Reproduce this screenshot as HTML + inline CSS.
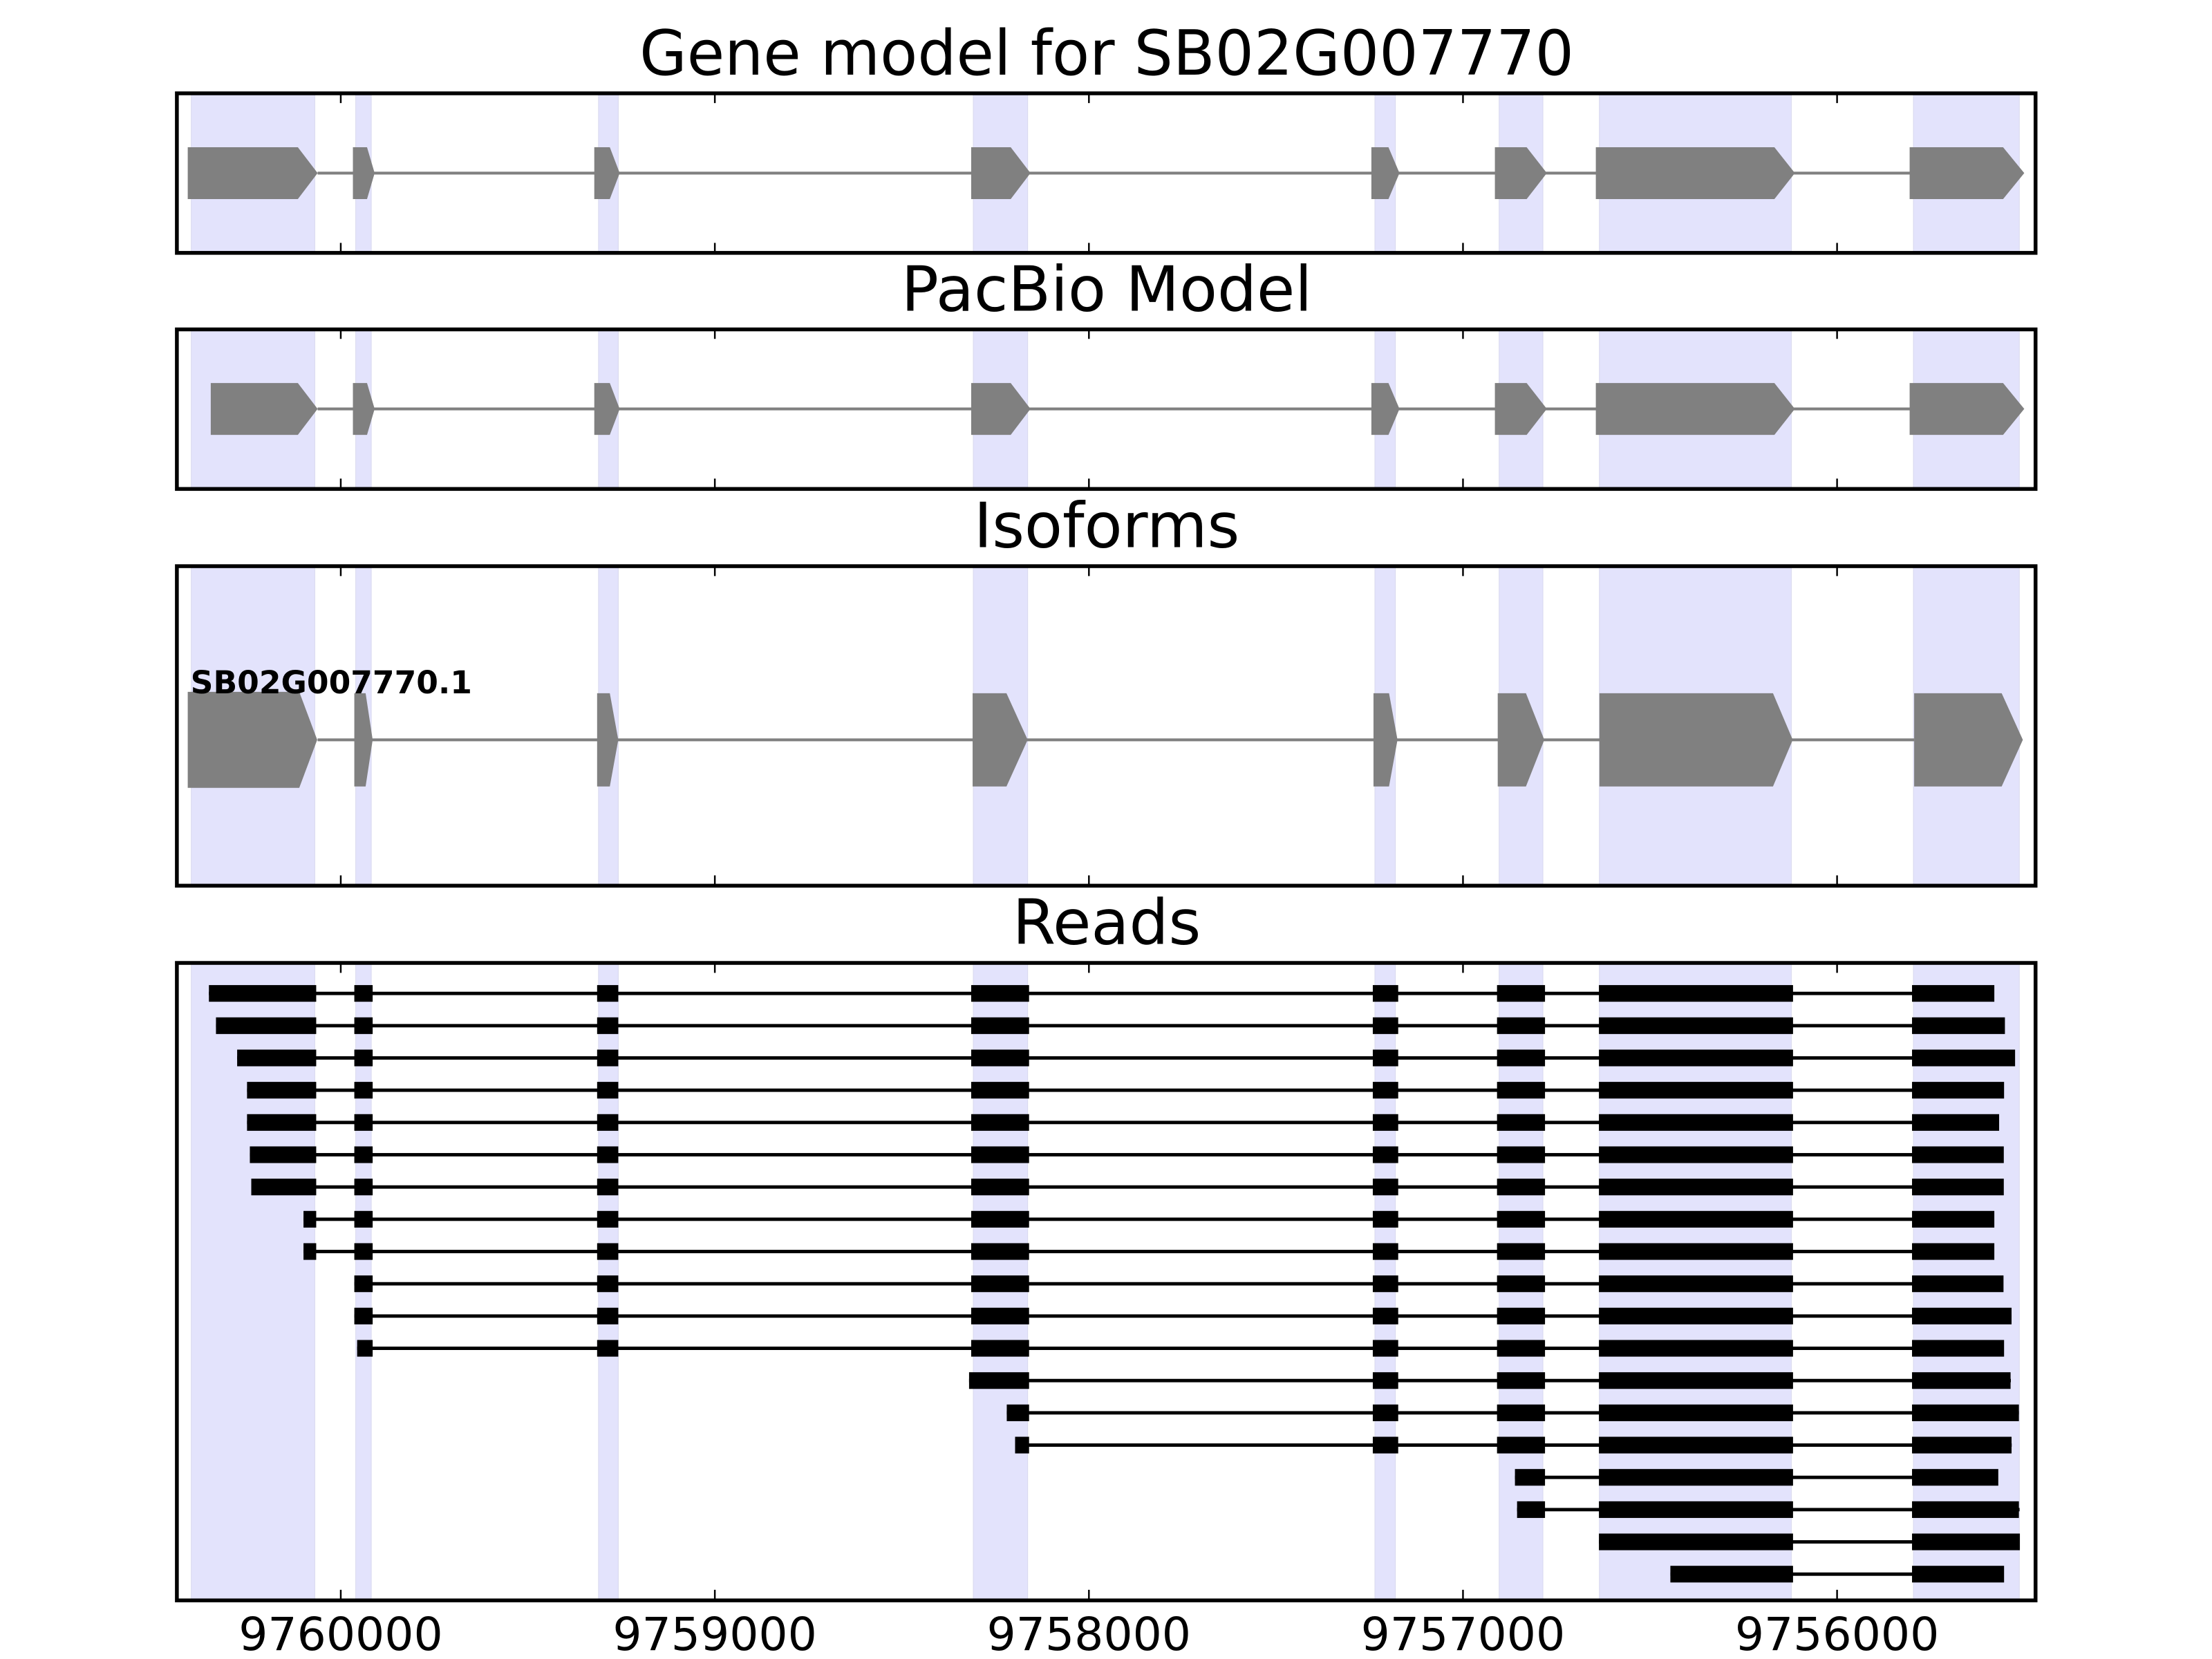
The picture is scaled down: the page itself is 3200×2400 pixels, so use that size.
<!DOCTYPE html>
<html><head><meta charset="utf-8"><style>
html,body{margin:0;padding:0;background:#fff;}
svg{display:block;}
text{font-family:"DejaVu Sans","Liberation Sans",sans-serif;}
</style></head><body>
<svg width="3200" height="2400" viewBox="0 0 1567 1175" preserveAspectRatio="none" xmlns="http://www.w3.org/2000/svg">
<defs>
<g id="sh" fill="#e3e3fc" stroke="#d8d8ee" stroke-width="1">
<rect x="135.5" y="0" width="87.5" height="1" vector-effect="non-scaling-stroke"/>
<rect x="252" y="0" width="11" height="1" vector-effect="non-scaling-stroke"/>
<rect x="424" y="0" width="14" height="1" vector-effect="non-scaling-stroke"/>
<rect x="689.5" y="0" width="38.5" height="1" vector-effect="non-scaling-stroke"/>
<rect x="974" y="0" width="14.5" height="1" vector-effect="non-scaling-stroke"/>
<rect x="1062" y="0" width="31" height="1" vector-effect="non-scaling-stroke"/>
<rect x="1133" y="0" width="136" height="1" vector-effect="non-scaling-stroke"/>
<rect x="1355.5" y="0" width="75" height="1" vector-effect="non-scaling-stroke"/>
</g>
</defs>
<rect width="1567" height="1175" fill="#fff"/>

<!-- Titles -->
<text x="784" y="53" font-size="44" text-anchor="middle" textLength="662" lengthAdjust="spacingAndGlyphs">Gene model for SB02G007770</text>
<text x="784" y="220" font-size="44" text-anchor="middle">PacBio Model</text>
<text x="784" y="387.5" font-size="44" text-anchor="middle">Isoforms</text>
<text x="784" y="668.5" font-size="44" text-anchor="middle">Reads</text>

<!-- shading -->
<use href="#sh" transform="translate(0,66.1) scale(1,113)"/>
<use href="#sh" transform="translate(0,233.3) scale(1,113)"/>
<use href="#sh" transform="translate(0,401) scale(1,226.3)"/>
<use href="#sh" transform="translate(0,682) scale(1,451.5)"/>

<!-- Panel 1 gene model -->
<g fill="#808080">
<line x1="225" y1="122.6" x2="1353" y2="122.6" stroke="#808080" stroke-width="2"/>
<polygon points="133,104.3 211,104.3 225,122.6 211,141 133,141"/>
<polygon points="250,104.3 260,104.3 265.4,122.6 260,141 250,141"/>
<polygon points="421,104.3 432,104.3 439,122.6 432,141 421,141"/>
<polygon points="688,104.3 716,104.3 730,122.6 716,141 688,141"/>
<polygon points="971.5,104.3 983.6,104.3 991.4,122.6 983.6,141 971.5,141"/>
<polygon points="1059,104.3 1081.5,104.3 1095.8,122.6 1081.5,141 1059,141"/>
<polygon points="1130.5,104.3 1257,104.3 1271.5,122.6 1257,141 1130.5,141"/>
<polygon points="1352.8,104.3 1419,104.3 1434,122.6 1419,141 1352.8,141"/>
</g>

<!-- Panel 2 -->
<g fill="#808080" transform="translate(0,167)">
<line x1="225" y1="122.6" x2="1353" y2="122.6" stroke="#808080" stroke-width="2"/>
<polygon points="149.3,104.3 211,104.3 225,122.6 211,141 149.3,141"/>
<polygon points="250,104.3 260,104.3 265.4,122.6 260,141 250,141"/>
<polygon points="421,104.3 432,104.3 439,122.6 432,141 421,141"/>
<polygon points="688,104.3 716,104.3 730,122.6 716,141 688,141"/>
<polygon points="971.5,104.3 983.6,104.3 991.4,122.6 983.6,141 971.5,141"/>
<polygon points="1059,104.3 1081.5,104.3 1095.8,122.6 1081.5,141 1059,141"/>
<polygon points="1130.5,104.3 1257,104.3 1271.5,122.6 1257,141 1130.5,141"/>
<polygon points="1352.8,104.3 1419,104.3 1434,122.6 1419,141 1352.8,141"/>
</g>

<!-- Panel 3 -->
<g fill="#808080">
<line x1="225" y1="524" x2="1356" y2="524" stroke="#808080" stroke-width="2"/>
<polygon points="133,490 212,490 224.7,524 212,558 133,558"/>
<polygon points="251,491 259,491 264,524 259,557 251,557"/>
<polygon points="423,491 432,491 438,524 432,557 423,557"/>
<polygon points="689,491 713,491 728,524 713,557 689,557"/>
<polygon points="973,491 984,491 990,524 984,557 973,557"/>
<polygon points="1061,491 1081,491 1094,524 1081,557 1061,557"/>
<polygon points="1133,491 1256,491 1270,524 1256,557 1133,557"/>
<polygon points="1356,491 1418,491 1433,524 1418,557 1356,557"/>
</g>
<text x="135" y="491" font-size="22.3" font-weight="bold">SB02G007770.1</text>

<!-- Reads -->
<g fill="#000" stroke="none">
<g transform="translate(0,703.6)">
<rect x="148" y="-1.2" width="1264" height="2.4"/>
<rect x="148" y="-5.9" width="76" height="11.8"/><rect x="251" y="-5.9" width="13" height="11.8"/><rect x="423" y="-5.9" width="15" height="11.8"/><rect x="688" y="-5.9" width="41" height="11.8"/><rect x="972.5" y="-5.9" width="18" height="11.8"/><rect x="1060.5" y="-5.9" width="34" height="11.8"/><rect x="1132.7" y="-5.9" width="137.5" height="11.8"/><rect x="1354.5" y="-5.9" width="58.3" height="11.8"/>
</g>
<g transform="translate(0,726.45)">
<rect x="153" y="-1.2" width="1267" height="2.4"/>
<rect x="153" y="-5.9" width="71" height="11.8"/><rect x="251" y="-5.9" width="13" height="11.8"/><rect x="423" y="-5.9" width="15" height="11.8"/><rect x="688" y="-5.9" width="41" height="11.8"/><rect x="972.5" y="-5.9" width="18" height="11.8"/><rect x="1060.5" y="-5.9" width="34" height="11.8"/><rect x="1132.7" y="-5.9" width="137.5" height="11.8"/><rect x="1354.5" y="-5.9" width="65.8" height="11.8"/>
</g>
<g transform="translate(0,749.3)">
<rect x="168" y="-1.2" width="1259" height="2.4"/>
<rect x="168" y="-5.9" width="56" height="11.8"/><rect x="251" y="-5.9" width="13" height="11.8"/><rect x="423" y="-5.9" width="15" height="11.8"/><rect x="688" y="-5.9" width="41" height="11.8"/><rect x="972.5" y="-5.9" width="18" height="11.8"/><rect x="1060.5" y="-5.9" width="34" height="11.8"/><rect x="1132.7" y="-5.9" width="137.5" height="11.8"/><rect x="1354.5" y="-5.9" width="73" height="11.8"/>
</g>
<g transform="translate(0,772.15)">
<rect x="175" y="-1.2" width="1244" height="2.4"/>
<rect x="175" y="-5.9" width="49" height="11.8"/><rect x="251" y="-5.9" width="13" height="11.8"/><rect x="423" y="-5.9" width="15" height="11.8"/><rect x="688" y="-5.9" width="41" height="11.8"/><rect x="972.5" y="-5.9" width="18" height="11.8"/><rect x="1060.5" y="-5.9" width="34" height="11.8"/><rect x="1132.7" y="-5.9" width="137.5" height="11.8"/><rect x="1354.5" y="-5.9" width="65.2" height="11.8"/>
</g>
<g transform="translate(0,795)">
<rect x="175" y="-1.2" width="1241" height="2.4"/>
<rect x="175" y="-5.9" width="49" height="11.8"/><rect x="251" y="-5.9" width="13" height="11.8"/><rect x="423" y="-5.9" width="15" height="11.8"/><rect x="688" y="-5.9" width="41" height="11.8"/><rect x="972.5" y="-5.9" width="18" height="11.8"/><rect x="1060.5" y="-5.9" width="34" height="11.8"/><rect x="1132.7" y="-5.9" width="137.5" height="11.8"/><rect x="1354.5" y="-5.9" width="61.7" height="11.8"/>
</g>
<g transform="translate(0,817.85)">
<rect x="177" y="-1.2" width="1242" height="2.4"/>
<rect x="177" y="-5.9" width="47" height="11.8"/><rect x="251" y="-5.9" width="13" height="11.8"/><rect x="423" y="-5.9" width="15" height="11.8"/><rect x="688" y="-5.9" width="41" height="11.8"/><rect x="972.5" y="-5.9" width="18" height="11.8"/><rect x="1060.5" y="-5.9" width="34" height="11.8"/><rect x="1132.7" y="-5.9" width="137.5" height="11.8"/><rect x="1354.5" y="-5.9" width="65" height="11.8"/>
</g>
<g transform="translate(0,840.7)">
<rect x="178" y="-1.2" width="1241" height="2.4"/>
<rect x="178" y="-5.9" width="46" height="11.8"/><rect x="251" y="-5.9" width="13" height="11.8"/><rect x="423" y="-5.9" width="15" height="11.8"/><rect x="688" y="-5.9" width="41" height="11.8"/><rect x="972.5" y="-5.9" width="18" height="11.8"/><rect x="1060.5" y="-5.9" width="34" height="11.8"/><rect x="1132.7" y="-5.9" width="137.5" height="11.8"/><rect x="1354.5" y="-5.9" width="65" height="11.8"/>
</g>
<g transform="translate(0,863.55)">
<rect x="215" y="-1.2" width="1197" height="2.4"/>
<rect x="215" y="-5.9" width="9" height="11.8"/><rect x="251" y="-5.9" width="13" height="11.8"/><rect x="423" y="-5.9" width="15" height="11.8"/><rect x="688" y="-5.9" width="41" height="11.8"/><rect x="972.5" y="-5.9" width="18" height="11.8"/><rect x="1060.5" y="-5.9" width="34" height="11.8"/><rect x="1132.7" y="-5.9" width="137.5" height="11.8"/><rect x="1354.5" y="-5.9" width="58.3" height="11.8"/>
</g>
<g transform="translate(0,886.4)">
<rect x="215" y="-1.2" width="1197" height="2.4"/>
<rect x="215" y="-5.9" width="9" height="11.8"/><rect x="251" y="-5.9" width="13" height="11.8"/><rect x="423" y="-5.9" width="15" height="11.8"/><rect x="688" y="-5.9" width="41" height="11.8"/><rect x="972.5" y="-5.9" width="18" height="11.8"/><rect x="1060.5" y="-5.9" width="34" height="11.8"/><rect x="1132.7" y="-5.9" width="137.5" height="11.8"/><rect x="1354.5" y="-5.9" width="58.3" height="11.8"/>
</g>
<g transform="translate(0,909.25)">
<rect x="251" y="-1.2" width="1168" height="2.4"/>
<rect x="251" y="-5.9" width="13" height="11.8"/><rect x="423" y="-5.9" width="15" height="11.8"/><rect x="688" y="-5.9" width="41" height="11.8"/><rect x="972.5" y="-5.9" width="18" height="11.8"/><rect x="1060.5" y="-5.9" width="34" height="11.8"/><rect x="1132.7" y="-5.9" width="137.5" height="11.8"/><rect x="1354.5" y="-5.9" width="64.8" height="11.8"/>
</g>
<g transform="translate(0,932.1)">
<rect x="251" y="-1.2" width="1174" height="2.4"/>
<rect x="251" y="-5.9" width="13" height="11.8"/><rect x="423" y="-5.9" width="15" height="11.8"/><rect x="688" y="-5.9" width="41" height="11.8"/><rect x="972.5" y="-5.9" width="18" height="11.8"/><rect x="1060.5" y="-5.9" width="34" height="11.8"/><rect x="1132.7" y="-5.9" width="137.5" height="11.8"/><rect x="1354.5" y="-5.9" width="70.5" height="11.8"/>
</g>
<g transform="translate(0,954.95)">
<rect x="253" y="-1.2" width="1166" height="2.4"/>
<rect x="253" y="-5.9" width="11" height="11.8"/><rect x="423" y="-5.9" width="15" height="11.8"/><rect x="688" y="-5.9" width="41" height="11.8"/><rect x="972.5" y="-5.9" width="18" height="11.8"/><rect x="1060.5" y="-5.9" width="34" height="11.8"/><rect x="1132.7" y="-5.9" width="137.5" height="11.8"/><rect x="1354.5" y="-5.9" width="65.2" height="11.8"/>
</g>
<g transform="translate(0,977.8)">
<rect x="686.5" y="-1.2" width="738" height="2.4"/>
<rect x="686.5" y="-5.9" width="42.5" height="11.8"/><rect x="972.5" y="-5.9" width="18" height="11.8"/><rect x="1060.5" y="-5.9" width="34" height="11.8"/><rect x="1132.7" y="-5.9" width="137.5" height="11.8"/><rect x="1354.5" y="-5.9" width="69.8" height="11.8"/>
</g>
<g transform="translate(0,1000.65)">
<rect x="713.2" y="-1.2" width="717" height="2.4"/>
<rect x="713.2" y="-5.9" width="15.8" height="11.8"/><rect x="972.5" y="-5.9" width="18" height="11.8"/><rect x="1060.5" y="-5.9" width="34" height="11.8"/><rect x="1132.7" y="-5.9" width="137.5" height="11.8"/><rect x="1354.5" y="-5.9" width="75.7" height="11.8"/>
</g>
<g transform="translate(0,1023.5)">
<rect x="719.1" y="-1.2" width="706" height="2.4"/>
<rect x="719.1" y="-5.9" width="9.9" height="11.8"/><rect x="972.5" y="-5.9" width="18" height="11.8"/><rect x="1060.5" y="-5.9" width="34" height="11.8"/><rect x="1132.7" y="-5.9" width="137.5" height="11.8"/><rect x="1354.5" y="-5.9" width="70.5" height="11.8"/>
</g>
<g transform="translate(0,1046.35)">
<rect x="1073.2" y="-1.2" width="342" height="2.4"/>
<rect x="1073.2" y="-5.9" width="21.3" height="11.8"/><rect x="1132.7" y="-5.9" width="137.5" height="11.8"/><rect x="1354.5" y="-5.9" width="61.1" height="11.8"/>
</g>
<g transform="translate(0,1069.2)">
<rect x="1074.7" y="-1.2" width="356" height="2.4"/>
<rect x="1074.7" y="-5.9" width="19.8" height="11.8"/><rect x="1132.7" y="-5.9" width="137.5" height="11.8"/><rect x="1354.5" y="-5.9" width="75.7" height="11.8"/>
</g>
<g transform="translate(0,1092.05)">
<rect x="1132.7" y="-1.2" width="298" height="2.4"/>
<rect x="1132.7" y="-5.9" width="137.5" height="11.8"/><rect x="1354.5" y="-5.9" width="76.4" height="11.8"/>
</g>
<g transform="translate(0,1114.9)">
<rect x="1183.3" y="-1.2" width="236" height="2.4"/>
<rect x="1183.3" y="-5.9" width="86.9" height="11.8"/><rect x="1354.5" y="-5.9" width="65.2" height="11.8"/>
</g>
</g>

<!-- Axes frames -->
<g fill="none" stroke="#000" stroke-width="2.7">
<rect x="125.3" y="66.1" width="1316.7" height="113"/>
<rect x="125.3" y="233.3" width="1316.7" height="113"/>
<rect x="125.3" y="401" width="1316.7" height="226.3"/>
<rect x="125.3" y="682" width="1316.7" height="451.5"/>
</g>
<g stroke="#000" stroke-width="1.2">
<path d="M241.4 66v7M506.4 66v7M771.4 66v7M1036.4 66v7M1301.4 66v7 M241.4 179v-7M506.4 179v-7M771.4 179v-7M1036.4 179v-7M1301.4 179v-7"/>
<path d="M241.4 233v7M506.4 233v7M771.4 233v7M1036.4 233v7M1301.4 233v7 M241.4 346v-7M506.4 346v-7M771.4 346v-7M1036.4 346v-7M1301.4 346v-7"/>
<path d="M241.4 401v7M506.4 401v7M771.4 401v7M1036.4 401v7M1301.4 401v7 M241.4 627v-7M506.4 627v-7M771.4 627v-7M1036.4 627v-7M1301.4 627v-7"/>
<path d="M241.4 682v7M506.4 682v7M771.4 682v7M1036.4 682v7M1301.4 682v7 M241.4 1133v-7M506.4 1133v-7M771.4 1133v-7M1036.4 1133v-7M1301.4 1133v-7"/>
</g>
<g font-size="32.5" text-anchor="middle">
<text x="241.4" y="1168.7">9760000</text>
<text x="506.4" y="1168.7">9759000</text>
<text x="771.4" y="1168.7">9758000</text>
<text x="1036.4" y="1168.7">9757000</text>
<text x="1301.4" y="1168.7">9756000</text>
</g>
</svg>
</body></html>
